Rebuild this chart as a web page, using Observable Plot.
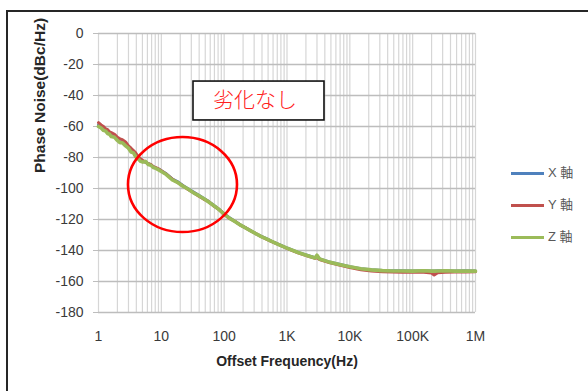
<!DOCTYPE html>
<html><head><meta charset="utf-8">
<script src="https://cdn.jsdelivr.net/npm/d3@7"></script>
<script src="https://cdn.jsdelivr.net/npm/@observablehq/plot@0.6"></script>
<style>
html,body{margin:0;padding:0;background:#fff;width:588px;height:391px;overflow:hidden;}
#wrap{position:relative;width:588px;height:391px;}
#frame{position:absolute;left:6px;top:10px;width:640px;height:420px;border-top:2px solid #262626;border-left:2px solid #262626;box-sizing:border-box;}
#chart{position:absolute;left:0;top:0;}
.legline{position:absolute;width:33px;height:3px;}
.leglabel{position:absolute;font-family:"Liberation Sans","Noto Sans CJK JP",sans-serif;font-size:13px;color:#595959;line-height:16px;white-space:nowrap;}
</style></head><body>
<div id="wrap"><div id="frame"></div><div id="chart"></div><div id="legend"></div></div>
<script>
// Offset frequency (Hz)
const freqs = [1,1.1,1.2,1.3,1.4,1.5,1.6,1.8,2,2.2,2.4,2.7,3,3.3,3.6,3.9,4.3,4.7,5.1,5.6,6.2,6.8,7.5,8.2,9.1,
  10,12,15,18,22,27,33,39,47,56,68,82,
  100,120,150,180,220,270,330,390,470,560,680,820,
  1000,1500,2200,2800,3000,3300,4700,6800,
  10000,15000,22000,33000,47000,68000,
  100000,150000,200000,220000,250000,330000,470000,680000,1000000];
// Phase noise (dBc/Hz)
const seriesX = [-59,-60.5,-62,-62.5,-64,-64.5,-66,-66.5,-68.5,-70,-70,-72,-73.5,-76,-76.5,-79,-80.5,-82,-82.5,-83,-84,-84.8,-86,-86.8,-87.5,
  -88.5,-90.5,-94,-95.5,-98,-100.3,-102.5,-104.2,-106.3,-108.3,-110.8,-113.3,
  -116.3,-118.8,-121.3,-123.4,-125.4,-127.4,-129.4,-130.9,-132.4,-133.9,-135.4,-136.9,
  -138.4,-141.2,-143.4,-144.7,-143.5,-145.4,-147.4,-148.9,
  -150.4,-151.7,-152.4,-152.9,-153.1,-153.1,
  -153.2,-153,-153.2,-153.2,-153.1,-153,-153.2,-153.1,-153.2];
const seriesY = [-57.5,-59,-60,-61.5,-62,-63.5,-64,-65,-67,-68,-68.5,-70,-72.5,-74,-75.5,-77,-79.5,-81,-82,-83,-84,-84.5,-86,-86.5,-87.5,
  -88.5,-90.8,-94,-96,-98.3,-100.8,-102.8,-104.8,-106.8,-108.3,-111.2,-113.3,
  -116.7,-119.2,-121.3,-123.6,-125.4,-127.6,-129.4,-131.1,-132.6,-134.1,-135.6,-137.1,
  -138.6,-141.5,-143.7,-145,-144.5,-145.8,-147.8,-149.4,
  -151,-152.4,-153.2,-153.7,-153.9,-154,
  -154,-154.1,-154.5,-155.8,-154.3,-154,-153.9,-153.8,-153.7];
const seriesZ = [-60,-61,-62.5,-63,-64.5,-65,-66.5,-67,-69,-70.5,-70.5,-72.5,-74,-76.5,-77,-79.5,-81,-82.5,-83,-82.5,-84.5,-85,-86.5,-87,-88,
  -89,-91,-94.5,-96,-98.5,-100.5,-103,-104.5,-106.5,-108.5,-111,-113.5,
  -116.5,-119,-121.5,-123.5,-125.5,-127.5,-129.5,-131,-132.5,-134,-135.5,-137,
  -138.5,-141.3,-143.5,-144.8,-143,-145.5,-147.5,-149,
  -150.5,-151.8,-152.5,-153,-153.2,-153.2,
  -153.3,-153.1,-153.3,-153.3,-153.2,-153.1,-153.3,-153.2,-153.3];
const seriesNames = ["X 軸","Y 軸","Z 軸"];
const seriesColors = ["#4f81bd","#c0504d","#9bbb59"];
const xTicks = [1,10,100,1000,10000,100000,1000000];
const xTickLabels = ["1","10","100","1K","10K","100K","1M"];
const yTicks = [0,-20,-40,-60,-80,-100,-120,-140,-160,-180];
const minorMultipliers = [1,2,3,4,5,6,7,8,9];
const decades = [1,10,100,1000,10000,100000];
const annotationText = "劣化なし";
const annotationBox = {x1: 32.5, x2: 3950, y1: -31, y2: -56.1, tx: 310, ty: -43.2};
const ellipseBounds = {x1: 3.0, x2: 163, y1: -67.1, y2: -128.4};
const xTitle = "Offset Frequency(Hz)";
const yTitle = "Phase Noise(dBc/Hz)";

const vGrid = [];
decades.forEach(d => minorMultipliers.forEach(m => vGrid.push(d*m)));
vGrid.push(1000000);

const allSeries = [seriesX, seriesY, seriesZ];
const lineMarks = allSeries.map((vals, k) =>
  Plot.line(freqs.map((f, i) => ({f, v: vals[i]})), {
    x: "f", y: "v", stroke: seriesColors[k], strokeWidth: k === 2 ? 3.6 : 3, strokeLinejoin: "round"
  })
);

const chart = Plot.plot({
  width: 588, height: 391,
  marginLeft: 98, marginRight: 113, marginTop: 33, marginBottom: 79,
  style: {fontFamily: "Liberation Sans, sans-serif", fontSize: "14px", background: "transparent", color: "#3a3a3a"},
  x: {type: "log", domain: [1, 1e6]},
  y: {domain: [-180, 0]},
  marks: [
    Plot.ruleX(vGrid, {stroke: "#d6d6d6", strokeWidth: 1.2}),
    Plot.ruleY(yTicks, {stroke: "#bdbdbd", strokeWidth: 1.3}),
    Plot.axisY({ticks: yTicks, tickSize: 5, tickPadding: 10, tickFormat: d => String(d), stroke: "#bdbdbd", fill: "#3a3a3a", label: null, fontSize: 14}),
    Plot.axisX({ticks: xTicks, tickSize: 0, tickPadding: 19, tickFormat: d => xTickLabels[xTicks.indexOf(d)], fill: "#3a3a3a", label: null, fontSize: 14}),
    ...lineMarks,
    Plot.rect([annotationBox], {x1: "x1", x2: "x2", y1: "y1", y2: "y2", fill: "white", stroke: "#111", strokeWidth: 1.6}),
    Plot.text([annotationBox], {x: "tx", y: "ty", text: () => annotationText, fill: "#ff2020", fontSize: 21, fontFamily: "Noto Sans CJK JP", fontWeight: 300}),
    Plot.text([xTitle], {frameAnchor: "bottom", dy: 53, text: d => d, fontWeight: "bold", fontSize: 14, fill: "#262626"}),
    Plot.text([yTitle], {frameAnchor: "left", dx: -58, rotate: -90, text: d => d, fontWeight: "bold", fontSize: 15.5, fill: "#262626"})
  ]
});

const sx = chart.scale("x"), sy = chart.scale("y");
const ex1 = sx.apply(ellipseBounds.x1), ex2 = sx.apply(ellipseBounds.x2);
const ey1 = sy.apply(ellipseBounds.y1), ey2 = sy.apply(ellipseBounds.y2);
d3.select(chart).append("ellipse")
  .attr("cx", (ex1 + ex2) / 2).attr("cy", (ey1 + ey2) / 2)
  .attr("rx", Math.abs(ex2 - ex1) / 2).attr("ry", Math.abs(ey2 - ey1) / 2)
  .attr("fill", "none").attr("stroke", "#ff0000").attr("stroke-width", 2.6);

document.getElementById("chart").appendChild(chart);

const legendYs = [173, 205, 237];
const legend = document.getElementById("legend");
seriesNames.forEach((name, k) => {
  const ln = document.createElement("div");
  ln.className = "legline";
  ln.style.left = "511px"; ln.style.top = (legendYs[k] - 1.5) + "px";
  ln.style.background = seriesColors[k];
  legend.appendChild(ln);
  const lb = document.createElement("div");
  lb.className = "leglabel";
  lb.style.left = "548px"; lb.style.top = (legendYs[k] - 8) + "px";
  lb.textContent = name;
  legend.appendChild(lb);
});
</script>
</body></html>
